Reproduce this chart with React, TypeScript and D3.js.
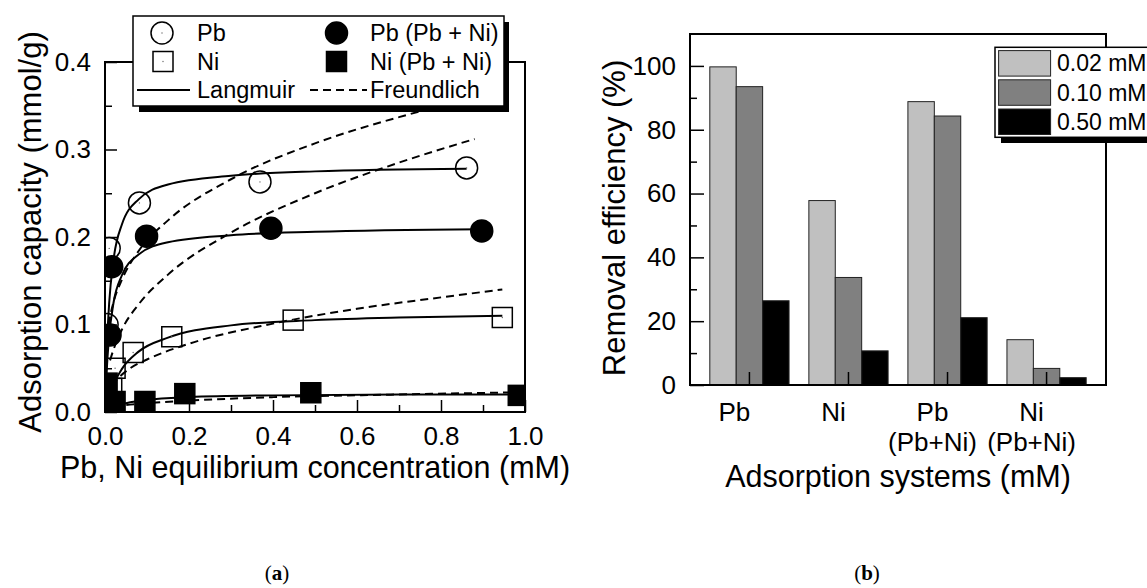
import { useEffect, useRef } from 'react'
import * as d3 from 'd3'

const FONT = "'Liberation Sans', Arial, Helvetica, sans-serif"

// (a) isotherm data, [Ce (mM), qe (mmol/g)]
const pbSingle = [[0.005, 0.100], [0.010, 0.187], [0.082, 0.239], [0.369, 0.263], [0.861, 0.279]]
const pbBinary = [[0.012, 0.088], [0.016, 0.166], [0.099, 0.201], [0.395, 0.210], [0.897, 0.207]]
const niSingle = [[0.016, 0.027], [0.024, 0.050], [0.067, 0.068], [0.159, 0.086], [0.448, 0.105], [0.946, 0.108]]
const niBinary = [[0.005, 0.033], [0.024, 0.012], [0.095, 0.012], [0.190, 0.021], [0.490, 0.022], [0.984, 0.019]]

// fitted curves
const pbLangmuir = [[0.002, 0.038], [0.005, 0.080], [0.01, 0.125], [0.02, 0.173], [0.04, 0.214], [0.08, 0.243], [0.15, 0.260], [0.3, 0.270], [0.5, 0.275], [0.861, 0.278]]
const pbBinLangmuir = [[0.002, 0.026], [0.005, 0.055], [0.01, 0.087], [0.02, 0.124], [0.04, 0.156], [0.08, 0.180], [0.15, 0.194], [0.3, 0.202], [0.5, 0.206], [0.897, 0.209]]
const niLangmuir = [[0.008, 0.015], [0.02, 0.031], [0.04, 0.049], [0.08, 0.069], [0.15, 0.085], [0.3, 0.099], [0.5, 0.105], [0.7, 0.108], [0.946, 0.110]]
const niBinLangmuir = [[0.005, 0.002], [0.02, 0.006], [0.05, 0.010], [0.1, 0.014], [0.2, 0.017], [0.4, 0.019], [0.7, 0.020], [0.984, 0.020]]
const pbFreundlich = [[0.005, 0.085], [0.01, 0.103], [0.02, 0.125], [0.04, 0.151], [0.08, 0.184], [0.15, 0.219], [0.3, 0.266], [0.5, 0.307], [0.7, 0.337], [0.861, 0.357]]
const pbBinFreundlich = [[0.012, 0.059], [0.02, 0.071], [0.04, 0.094], [0.08, 0.123], [0.15, 0.157], [0.3, 0.205], [0.5, 0.250], [0.7, 0.285], [0.88, 0.312]]
const niFreundlich = [[0.016, 0.030], [0.03, 0.038], [0.06, 0.050], [0.1, 0.060], [0.2, 0.078], [0.4, 0.101], [0.6, 0.118], [0.8, 0.131], [0.946, 0.140]]
const niBinFreundlich = [[0.02, 0.006], [0.05, 0.008], [0.1, 0.010], [0.2, 0.013], [0.4, 0.017], [0.7, 0.020], [0.984, 0.0225]]

const xTicksA = [0, 0.2, 0.4, 0.6, 0.8, 1.0]
const yTicksA = [0, 0.1, 0.2, 0.3, 0.4]

// (b) removal efficiency (%)
const systems = ['Pb', 'Ni', 'Pb (Pb+Ni)', 'Ni (Pb+Ni)']
const systemLabels = [['Pb'], ['Ni'], ['Pb', '(Pb+Ni)'], ['Ni', '(Pb+Ni)']]
const concLabels = ['0.02 mM', '0.10 mM', '0.50 mM']
const eff002 = [99.7, 57.8, 88.8, 14.2]
const eff010 = [93.5, 33.7, 84.3, 5.2]
const eff050 = [26.4, 10.7, 21.1, 2.3]
const barColors = ['#c0c0c0', '#808080', '#000000']
const yTicksB = [0, 20, 40, 60, 80, 100]

type Sel = d3.Selection<SVGGElement, unknown, null, undefined>

function styleAxis(g: Sel, size: number) {
  g.select('.domain').remove()
  g.selectAll('line').attr('stroke', '#000').attr('stroke-width', 1.5)
  g.selectAll('text').attr('font-size', size + 'px').attr('font-family', FONT).attr('fill', '#000')
}

function drawIsotherms(root: Sel) {
  const L = 105, T = 62, R = 525, B = 412
  const x = d3.scaleLinear().domain([0, 1]).range([L, R])
  const y = d3.scaleLinear().domain([0, 0.4]).range([B, T])

  root.append('clipPath').attr('id', 'clipA')
    .append('rect').attr('x', L).attr('y', T).attr('width', R - L).attr('height', B - T)
  const plot = root.append('g').attr('clip-path', 'url(#clipA)')

  const line = d3.line<number[]>().x((d) => x(d[0])).y((d) => y(d[1])).curve(d3.curveMonotoneX)
  const fits = [
    { pts: pbLangmuir, dash: false }, { pts: pbBinLangmuir, dash: false },
    { pts: niLangmuir, dash: false }, { pts: niBinLangmuir, dash: false },
    { pts: pbFreundlich, dash: true }, { pts: pbBinFreundlich, dash: true },
    { pts: niFreundlich, dash: true }, { pts: niBinFreundlich, dash: true },
  ]
  fits.forEach((f) => {
    plot.append('path').attr('d', line(f.pts)).attr('fill', 'none')
      .attr('stroke', '#000').attr('stroke-width', 2)
      .attr('stroke-dasharray', f.dash ? '8,5' : null)
  })

  const circle = (g: Sel, cx: number, cy: number, filled: boolean) => {
    g.append('circle').attr('cx', cx).attr('cy', cy).attr('r', 11)
      .attr('fill', filled ? '#000' : 'none').attr('stroke', '#000').attr('stroke-width', 1.5)
    if (!filled) g.append('circle').attr('cx', cx).attr('cy', cy).attr('r', 0.7).attr('fill', '#666')
  }
  const square = (g: Sel, cx: number, cy: number, filled: boolean) => {
    g.append('rect').attr('x', cx - 10).attr('y', cy - 10).attr('width', 20).attr('height', 20)
      .attr('fill', filled ? '#000' : 'none').attr('stroke', '#000').attr('stroke-width', 1.5)
    if (!filled) g.append('circle').attr('cx', cx).attr('cy', cy).attr('r', 0.7).attr('fill', '#666')
  }
  pbSingle.forEach((d) => circle(plot, x(d[0]), y(d[1]), false))
  niSingle.forEach((d) => square(plot, x(d[0]), y(d[1]), false))
  pbBinary.forEach((d) => circle(plot, x(d[0]), y(d[1]), true))
  niBinary.forEach((d) => square(plot, x(d[0]), y(d[1]), true))

  root.append('rect').attr('x', L).attr('y', T).attr('width', R - L).attr('height', B - T)
    .attr('fill', 'none').attr('stroke', '#000').attr('stroke-width', 2)

  const ax = root.append('g').attr('transform', `translate(0,${B})`)
    .call(d3.axisBottom(x).tickValues(xTicksA).tickSizeInner(-12).tickSizeOuter(0).tickPadding(14.5).tickFormat(d3.format('.1f')))
  styleAxis(ax, 26)
  const axm = root.append('g').attr('transform', `translate(0,${B})`)
    .call(d3.axisBottom(x).tickValues(d3.range(0.1, 1, 0.2)).tickSizeInner(-7).tickSizeOuter(0).tickFormat(() => ''))
  styleAxis(axm, 26)
  const ay = root.append('g').attr('transform', `translate(${L},0)`)
    .call(d3.axisLeft(y).tickValues(yTicksA).tickSizeInner(-12).tickSizeOuter(0).tickPadding(14).tickFormat(d3.format('.1f')))
  styleAxis(ay, 26)
  const aym = root.append('g').attr('transform', `translate(${L},0)`)
    .call(d3.axisLeft(y).tickValues(d3.range(0.05, 0.4, 0.1)).tickSizeInner(-7).tickSizeOuter(0).tickFormat(() => ''))
  styleAxis(aym, 26)

  root.append('text').attr('x', (L + R) / 2).attr('y', 478).attr('text-anchor', 'middle')
    .attr('font-family', FONT).attr('font-size', '30.5px').text('Pb, Ni equilibrium concentration (mM)')
  root.append('text').attr('transform', 'translate(41,232) rotate(-90)').attr('text-anchor', 'middle')
    .attr('font-family', FONT).attr('font-size', '31px').text('Adsorption capacity (mmol/g)')

  // legend
  const lg = root.append('g')
  lg.append('rect').attr('x', 139).attr('y', 22).attr('width', 370).attr('height', 90).attr('fill', '#000')
  lg.append('rect').attr('x', 133).attr('y', 16).attr('width', 371).attr('height', 90)
    .attr('fill', '#fff').attr('stroke', '#000').attr('stroke-width', 1.5)
  const rows = [33, 61.5, 90]
  circle(lg, 162, rows[0], false)
  square(lg, 163, rows[1], false)
  circle(lg, 336.5, rows[0], true)
  square(lg, 336.5, rows[1], true)
  lg.append('line').attr('x1', 137).attr('x2', 190).attr('y1', rows[2]).attr('y2', rows[2])
    .attr('stroke', '#000').attr('stroke-width', 2)
  lg.append('line').attr('x1', 310).attr('x2', 367).attr('y1', rows[2]).attr('y2', rows[2])
    .attr('stroke', '#000').attr('stroke-width', 2).attr('stroke-dasharray', '8,5')
  const legendText = [
    { x: 197, y: rows[0], t: 'Pb' }, { x: 197, y: rows[1], t: 'Ni' }, { x: 197, y: rows[2], t: 'Langmuir' },
    { x: 370, y: rows[0], t: 'Pb (Pb + Ni)' }, { x: 370, y: rows[1], t: 'Ni (Pb + Ni)' }, { x: 370, y: rows[2], t: 'Freundlich' },
  ]
  legendText.forEach((d) => {
    lg.append('text').attr('x', d.x).attr('y', d.y).attr('dy', '0.35em')
      .attr('font-family', FONT).attr('font-size', '23.5px').text(d.t)
  })
}

function drawRemoval(root: Sel) {
  const L = 690, T = 34, R = 1106, B = 385
  const x = d3.scaleBand().domain(systems).range([L, R]).paddingInner(0.2).paddingOuter(0.2)
  const xs = d3.scaleBand<number>().domain([0, 1, 2]).range([0, x.bandwidth()])
  const y = d3.scaleLinear().domain([0, 110]).range([B, T])
  const series = [eff002, eff010, eff050]

  series.forEach((vals, si) => {
    vals.forEach((v, i) => {
      root.append('rect')
        .attr('x', (x(systems[i]) as number) + (xs(si) as number))
        .attr('y', y(v)).attr('width', xs.bandwidth()).attr('height', B - y(v))
        .attr('fill', barColors[si]).attr('stroke', '#222').attr('stroke-width', 1)
    })
  })

  root.append('rect').attr('x', L).attr('y', T).attr('width', R - L).attr('height', B - T)
    .attr('fill', 'none').attr('stroke', '#000').attr('stroke-width', 2)

  const ay = root.append('g').attr('transform', `translate(${L},0)`)
    .call(d3.axisLeft(y).tickValues(yTicksB).tickSizeInner(-14).tickSizeOuter(0).tickPadding(14))
  styleAxis(ay, 26)
  const aym = root.append('g').attr('transform', `translate(${L},0)`)
    .call(d3.axisLeft(y).tickValues(d3.range(10, 110, 20)).tickSizeInner(-7).tickSizeOuter(0).tickFormat(() => ''))
  styleAxis(aym, 26)
  const ax = root.append('g').attr('transform', `translate(0,${B})`)
    .call(d3.axisBottom(x).tickSizeInner(-13).tickSizeOuter(0).tickFormat(() => ''))
  styleAxis(ax, 26)

  systems.forEach((s, i) => {
    const cx = (x(s) as number) + x.bandwidth() / 2 - 15
    systemLabels[i].forEach((t, j) => {
      root.append('text').attr('x', cx).attr('y', 421 + j * 30).attr('text-anchor', 'middle')
        .attr('font-family', FONT).attr('font-size', '26px').text(t)
    })
  })

  root.append('text').attr('x', (L + R) / 2).attr('y', 487).attr('text-anchor', 'middle')
    .attr('font-family', FONT).attr('font-size', '30.5px').text('Adsorption systems (mM)')
  root.append('text').attr('transform', 'translate(625,218) rotate(-90)').attr('text-anchor', 'middle')
    .attr('font-family', FONT).attr('font-size', '31px').text('Removal efficiency (%)')

  // legend
  const lg = root.append('g')
  lg.append('rect').attr('x', 1001).attr('y', 53).attr('width', 200).attr('height', 90).attr('fill', '#000')
  lg.append('rect').attr('x', 995).attr('y', 47.3).attr('width', 200).attr('height', 90)
    .attr('fill', '#fff').attr('stroke', '#000').attr('stroke-width', 1.5)
  concLabels.forEach((c, i) => {
    const cy = 63.3 + i * 29.2
    lg.append('rect').attr('x', 998.6).attr('y', cy - 12.7).attr('width', 52).attr('height', 25.5)
      .attr('fill', barColors[i]).attr('stroke', '#222').attr('stroke-width', 1)
    lg.append('text').attr('x', 1057).attr('y', cy).attr('dy', '0.35em')
      .attr('font-family', FONT).attr('font-size', '23px').text(c)
  })
}

export default function App() {
  const svgRef = useRef<SVGSVGElement>(null)

  useEffect(() => {
    if (!svgRef.current) return
    const svg = d3.select(svgRef.current)
    svg.selectAll('*').remove()
    drawIsotherms(svg.append('g') as Sel)
    drawRemoval(svg.append('g') as Sel)

    const caps = [{ x: 277, t: 'a' }, { x: 867, t: 'b' }]
    caps.forEach((c) => {
      const t = svg.append('text').attr('x', c.x).attr('y', 580).attr('text-anchor', 'middle')
        .attr('font-family', "'Liberation Serif', 'DejaVu Serif', serif").attr('font-size', '21px')
      t.append('tspan').text('(')
      t.append('tspan').attr('font-weight', 'bold').text(c.t)
      t.append('tspan').text(')')
    })
  }, [])

  return (
    <svg ref={svgRef} width={1147} height={588}
      style={{ position: 'absolute', left: 0, top: 0, background: '#fff' }} />
  )
}
